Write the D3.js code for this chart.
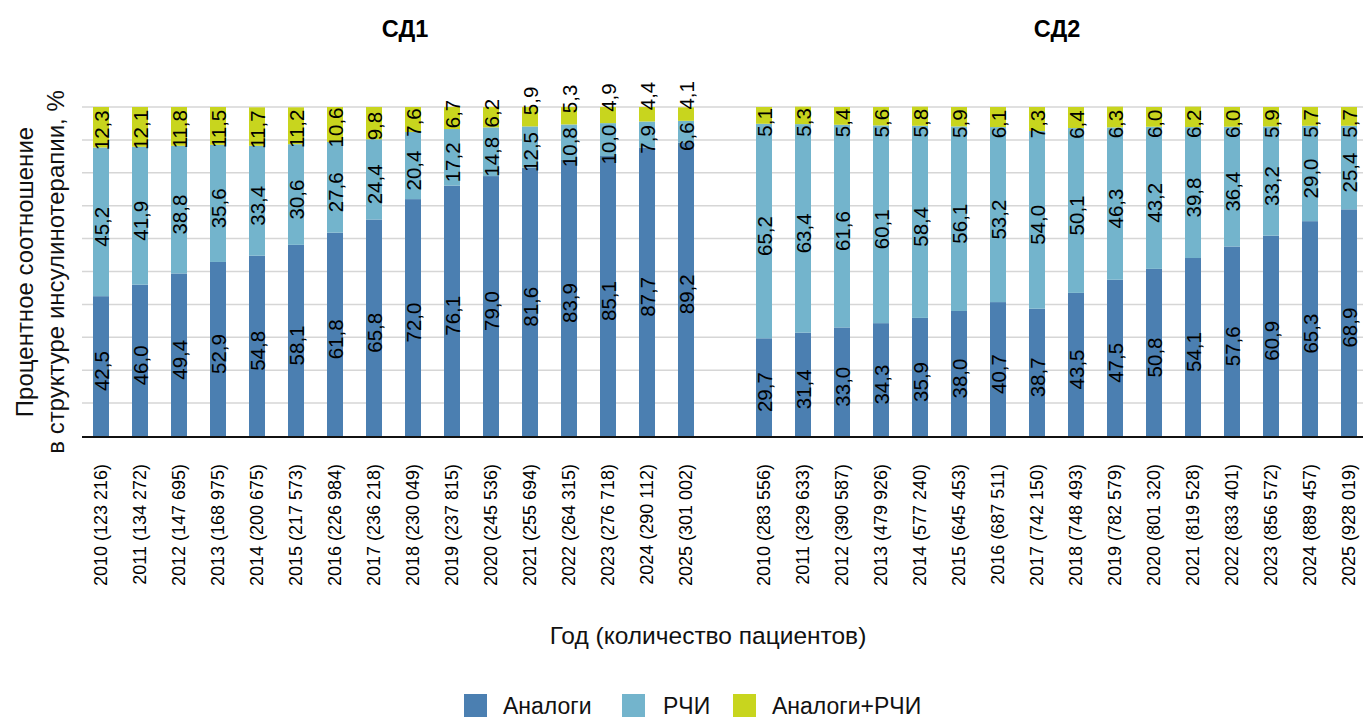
<!DOCTYPE html>
<html><head><meta charset="utf-8">
<script src="https://cdn.jsdelivr.net/npm/d3@7"></script>
<style>
body{margin:0;background:#fff;}
svg{display:block;font-family:"Liberation Sans",Arial,sans-serif;}
</style></head>
<body><svg id="c" width="1363" height="719"></svg>
<script>
const years = [2010,2011,2012,2013,2014,2015,2016,2017,2018,2019,2020,2021,2022,2023,2024,2025];
const patientsSD1 = ["123 216","134 272","147 695","168 975","200 675","217 573","226 984","236 218","230 049","237 815","245 536","255 694","264 315","276 718","290 112","301 002"];
const patientsSD2 = ["283 556","329 633","390 587","479 926","577 240","645 453","687 511","742 150","748 493","782 579","801 320","819 528","833 401","856 572","889 457","928 019"];
const sd1Analog = [42.5,46.0,49.4,52.9,54.8,58.1,61.8,65.8,72.0,76.1,79.0,81.6,83.9,85.1,87.7,89.2];
const sd1RCHI   = [45.2,41.9,38.8,35.6,33.4,30.6,27.6,24.4,20.4,17.2,14.8,12.5,10.8,10.0,7.9,6.6];
const sd1Mix    = [12.3,12.1,11.8,11.5,11.7,11.2,10.6,9.8,7.6,6.7,6.2,5.9,5.3,4.9,4.4,4.1];
const sd2Analog = [29.7,31.4,33.0,34.3,35.9,38.0,40.7,38.7,43.5,47.5,50.8,54.1,57.6,60.9,65.3,68.9];
const sd2RCHI   = [65.2,63.4,61.6,60.1,58.4,56.1,53.2,54.0,50.1,46.3,43.2,39.8,36.4,33.2,29.0,25.4];
const sd2Mix    = [5.1,5.3,5.4,5.6,5.8,5.9,6.1,7.3,6.4,6.3,6.0,6.2,6.0,5.9,5.7,5.7];
const seriesNames = ["Аналоги","РЧИ","Аналоги+РЧИ"];
const colors = ["#4b7fb1","#73b4cc","#c8d51e"];
const yTicks = [0,10,20,30,40,50,60,70,80,90,100];

const svg = d3.select("#c");
const W = 1363;
const y = d3.scaleLinear().domain([0,100]).range([436,107]);
const step = 39;
const x1 = d3.scaleBand().domain(years).range([81.5, 81.5+16*step]).paddingInner(0.59).paddingOuter(0.295);
const x2 = d3.scaleBand().domain(years).range([81.5+17*step, 81.5+33*step]).paddingInner(0.59).paddingOuter(0.295);

// gridlines
svg.append("g").selectAll("line").data(yTicks.filter(d=>d>0)).join("line")
  .attr("x1",82).attr("x2",W).attr("y1",d=>y(d)).attr("y2",d=>y(d))
  .attr("stroke","#d6d6d6").attr("stroke-width",1.5);

function drawGroup(x, analog, rchi, mix, patients, title, titleX, leftStyle){
  const rows = years.map((yr,i)=>({year:yr, Аналоги:analog[i], РЧИ:rchi[i], "Аналоги+РЧИ":mix[i]}));
  const stack = d3.stack().keys(seriesNames)(rows);
  const g = svg.append("g");
  g.selectAll("g.s").data(stack).join("g").attr("fill",(d,i)=>colors[i])
    .selectAll("rect").data(d=>d).join("rect")
    .attr("x",d=>x(d.data.year)).attr("width",x.bandwidth())
    .attr("y",d=>y(d[1])).attr("height",d=>y(d[0])-y(d[1]));
  // labels
  stack.forEach((s,si)=>{
    g.append("g").selectAll("text").data(s).join("text")
      .attr("transform",d=>{
        const top=y(d[1]), bot=y(d[0]), h=bot-top, mid=(top+bot)/2;
        let cy=mid+5;
        if(si===2 && leftStyle){
          if(h<20) cy = top + h - 25.5;
          else if(h<23) cy = mid - 4;
          else cy = mid + 3;
        }
        if(si===2 && !leftStyle && h<22) cy = mid + 7;
        return `translate(${x(d.data.year)+x.bandwidth()/2},${cy}) rotate(-90)`;
      })
      .attr("text-anchor","middle").attr("dominant-baseline","central")
      .style("font-family","'Liberation Sans Narrow','Liberation Sans',sans-serif")
      .style("font-size","20.5px").attr("fill","#000")
      .text(d=>(d[1]-d[0]).toFixed(1).replace(".",","));
  });
  // x tick labels
  g.append("g").selectAll("text").data(years).join("text")
    .attr("transform",(d)=>`translate(${x(d)+x.bandwidth()/2},464) rotate(-90)`)
    .attr("text-anchor","end").attr("dominant-baseline","central")
    .style("font-size","18px").attr("fill","#000")
    .text((d,i)=>`${d} (${patients[i]})`);
  svg.append("text").attr("x",titleX).attr("y",37).attr("text-anchor","middle")
    .style("font-size","23.5px").style("font-weight","bold").text(title);
}
drawGroup(x1, sd1Analog, sd1RCHI, sd1Mix, patientsSD1, "СД1", 405, true);
drawGroup(x2, sd2Analog, sd2RCHI, sd2Mix, patientsSD2, "СД2", 1057, false);

// baseline
svg.append("line").attr("x1",82).attr("x2",W).attr("y1",437).attr("y2",437)
  .attr("stroke","#111").attr("stroke-width",2);

// y title
const yt = svg.append("text").attr("transform","translate(0,272) rotate(-90)")
  .attr("text-anchor","middle").style("font-size","24px").attr("fill","#111");
yt.append("tspan").attr("x",0).attr("y",33).text("Процентное соотношение");
yt.append("tspan").attr("x",0).attr("y",64).text("в структуре инсулинотерапии, %");

// x title
svg.append("text").attr("x",708).attr("y",644).attr("text-anchor","middle")
  .style("font-size","24.5px").attr("fill","#111").text("Год (количество пациентов)");

// legend
const legX = [464,622,733];
const lg = svg.append("g").selectAll("g").data(seriesNames).join("g")
  .attr("transform",(d,i)=>`translate(${legX[i]},694)`);
lg.append("rect").attr("width",23).attr("height",23).attr("fill",(d,i)=>colors[i]);
lg.append("text").attr("x",(d,i)=>i===1?41:39).attr("y",19.5).style("font-size","23px").attr("fill","#111").text(d=>d);
</script></body></html>
